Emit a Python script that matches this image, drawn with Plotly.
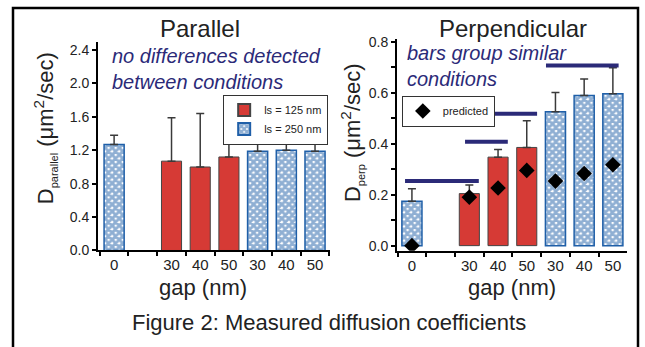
import plotly.graph_objects as go

# ---------------- data ----------------
gap_labels = ["0", "", "30", "40", "50", "30", "40", "50"]
pos_125 = [2, 3, 4]          # category index of ls = 125 nm bars
pos_250 = [0, 5, 6, 7]       # category index of ls = 250 nm bars

par_125 = [1.07, 1.00, 1.12]
par_125_top = [1.59, 1.64, 1.30]
par_250 = [1.27, 1.19, 1.20, 1.19]
par_250_top = [1.38, 1.40, 1.32, 1.35]

perp_125 = [0.204, 0.347, 0.385]
perp_125_top = [0.238, 0.377, 0.490]
perp_250 = [0.174, 0.525, 0.589, 0.596]
perp_250_top = [0.223, 0.600, 0.653, 0.698]

predicted = [0.0, None, 0.19, 0.226, 0.295, 0.253, 0.283, 0.317]

group_levels = [0.253, 0.407, 0.517, 0.706]
group_start = [-0.24, 1.85, 2.86, 4.67]
group_end = [2.33, 3.34, 4.36, 7.20]

# ---------------- styles ----------------
RED = "#d63a35"
BLUE = "#1f5fa8"
NAVY = "#2b2a78"
FONT = "Liberation Sans, Arial, sans-serif"
ERR = "#3a3a3a"

fig = go.Figure()

def up_err(vals, tops):
    return [t - v for v, t in zip(vals, tops)]

def add_bars(xs, vals, tops, name, color, pattern, xa, ya, legend, show):
    kw = dict(
        x=xs, y=vals, name=name, width=0.7, xaxis=xa, yaxis=ya,
        legend=legend, showlegend=show,
        error_y=dict(type="data", symmetric=False, array=up_err(vals, tops),
                     arrayminus=[0] * len(vals), color=ERR, thickness=1.5, width=4),
    )
    if pattern:
        kw["marker"] = dict(color="white", line=dict(color=BLUE, width=1.5),
                            pattern=dict(shape="x", fgcolor=BLUE, bgcolor="white",
                                         size=5, solidity=0.8, fillmode="overlay"))
    else:
        kw["marker"] = dict(color=color, line=dict(color="#444444", width=1))
    fig.add_trace(go.Bar(**kw))

add_bars(pos_125, par_125, par_125_top, "ls = 125 nm", RED, False, "x", "y", "legend", True)
add_bars(pos_250, par_250, par_250_top, "ls = 250 nm", BLUE, True, "x", "y", "legend", True)
add_bars(pos_125, perp_125, perp_125_top, "ls = 125 nm", RED, False, "x2", "y2", "legend", False)
add_bars(pos_250, perp_250, perp_250_top, "ls = 250 nm", BLUE, True, "x2", "y2", "legend", False)

for lv, a, b in zip(group_levels, group_start, group_end):
    fig.add_trace(go.Scatter(x=[a, b], y=[lv, lv], mode="lines",
                             line=dict(color=NAVY, width=4), xaxis="x2", yaxis="y2",
                             showlegend=False, hoverinfo="skip"))

fig.add_trace(go.Scatter(x=list(range(len(gap_labels))), y=predicted, mode="markers",
                         name="predicted", xaxis="x2", yaxis="y2", legend="legend2",
                         marker=dict(symbol="diamond", size=12, color="black")))

tickpos = [i for i, t in enumerate(gap_labels) if t != ""]
ticktxt = [t for t in gap_labels if t != ""]
bounds = [i + 0.5 for i in range(-1, len(gap_labels))]

xcommon = dict(tickmode="array", tickvals=tickpos, ticktext=ticktxt, ticks="",
               showline=True, linecolor="black", linewidth=2, zeroline=False,
               showgrid=False, tickfont=dict(size=15, color="#222"),
               minor=dict(tickmode="array", tickvals=bounds, ticks="outside",
                          ticklen=4, tickwidth=1.5, tickcolor="black"))
ycommon = dict(showline=True, linecolor="black", linewidth=2, zeroline=False,
               showgrid=False, ticks="outside", ticklen=4, tickwidth=1.5,
               tickcolor="black", tickfont=dict(size=14, color="#222"))

fig.update_layout(
    width=645, height=347, margin=dict(l=0, r=0, t=0, b=0),
    paper_bgcolor="white", plot_bgcolor="white",
    font=dict(family=FONT, color="#222"),
    barmode="overlay",
    xaxis=dict(domain=[0.152, 0.512], range=[-0.56, 7.53], anchor="y", **xcommon),
    yaxis=dict(domain=[0.265, 0.89], range=[0, 2.5], anchor="x",
               tickvals=[0, 0.4, 0.8, 1.2, 1.6, 2.0, 2.4], tickformat=".1f", **ycommon),
    xaxis2=dict(domain=[0.6155, 0.972], range=[-0.52, 7.49], anchor="y2", **xcommon),
    yaxis2=dict(domain=[0.2643, 0.898], range=[-0.02, 0.81], anchor="x2",
                tickvals=[0, 0.2, 0.4, 0.6, 0.8], tickformat=".1f",
                minor=dict(tickvals=[0.1, 0.3, 0.5, 0.7], ticks="outside",
                           ticklen=4, tickwidth=1.5, tickcolor="black"),
                **ycommon),
    legend=dict(x=0.346, y=0.732, xanchor="left", yanchor="top",
                bordercolor="#333", borderwidth=1, bgcolor="white",
                font=dict(size=11, color="#222"), tracegroupgap=0,
                itemwidth=30, itemsizing="constant"),
    legend2=dict(x=0.623, y=0.729, xanchor="left", yanchor="top",
                 bordercolor="#333", borderwidth=1, bgcolor="white",
                 font=dict(size=11, color="#222"), itemwidth=30,
                 itemsizing="constant"),
)

ann = [
    dict(text="Parallel", x=200, y=24, size=24),
    dict(text="Perpendicular", x=513, y=24, size=24),
    dict(text="gap (nm)", x=203, y=293, size=22),
    dict(text="gap (nm)", x=512, y=293, size=22),
    dict(text="Figure 2: Measured diffusion coefficients", x=329, y=330, size=22),
]
for a in ann:
    fig.add_annotation(text=a["text"], x=a["x"] / 645, y=1 - a["y"] / 347,
                       xref="paper", yref="paper", showarrow=False,
                       xanchor="center", yanchor="middle",
                       font=dict(size=a["size"], color="#222", family=FONT))

SUB = "<sub><span style='font-size:11px'>{}</span></sub>"
fig.add_annotation(text="D" + SUB.format("parallel") + " (μm<sup>2</sup>/sec)",
                   x=45 / 645, y=1 - 128 / 347,
                   xref="paper", yref="paper", showarrow=False, textangle=-90,
                   xanchor="center", yanchor="middle",
                   font=dict(size=22, color="#222", family=FONT))
fig.add_annotation(text="D" + SUB.format("perp") + " (μm<sup>2</sup>/sec)",
                   x=352 / 645, y=1 - 133 / 347,
                   xref="paper", yref="paper", showarrow=False, textangle=-90,
                   xanchor="center", yanchor="middle",
                   font=dict(size=22, color="#222", family=FONT))

fig.add_annotation(text="<i>no differences detected<br>between conditions</i>",
                   x=110 / 645, y=1 - 66 / 347, xref="paper", yref="paper",
                   showarrow=False, xanchor="left", yanchor="middle", align="left",
                   font=dict(size=20, color=NAVY, family=FONT))
fig.add_annotation(text="<i>bars group similar<br>conditions</i>",
                   x=405 / 645, y=1 - 63 / 347, xref="paper", yref="paper",
                   showarrow=False, xanchor="left", yanchor="middle", align="left",
                   font=dict(size=20, color=NAVY, family=FONT))

fig.add_shape(type="rect", xref="paper", yref="paper",
              x0=13 / 645, x1=638 / 645, y0=-0.05, y1=1 - 3 / 347,
              line=dict(color="black", width=2.5), layer="above")

fig.write_html("out.html", config={"displayModeBar": False},
               post_script="document.body.style.margin='0';document.body.style.overflow='hidden';")
